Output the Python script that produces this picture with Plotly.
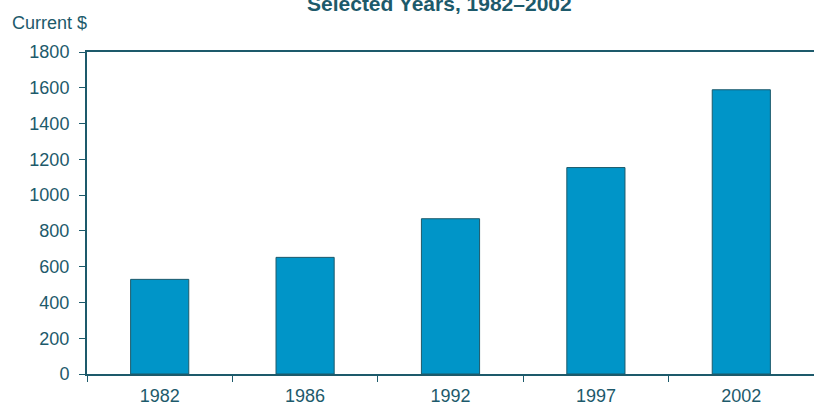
import plotly.graph_objects as go

years = ["1982", "1986", "1992", "1997", "2002"]
values = [529, 652, 868, 1154, 1589]
y_ticks = [0, 200, 400, 600, 800, 1000, 1200, 1400, 1600, 1800]

TEXT = "#1d5a6b"
FONT = "Liberation Sans, Arial, sans-serif"

L, R, T, B = 87, 0, 52, 29
PW, PH = 814 - L - R, 403 - T - B

fig = go.Figure(go.Bar(
    x=years, y=values, width=0.4,
    marker=dict(color="#0095c8", line=dict(color=TEXT, width=1)),
))

fig.update_layout(
    width=814, height=403,
    margin=dict(l=L, r=R, t=T, b=B),
    plot_bgcolor="white", paper_bgcolor="white",
    font=dict(family=FONT, size=18, color=TEXT),
    showlegend=False,
    xaxis=dict(
        type="category", showline=True, linecolor=TEXT, linewidth=2,
        mirror=True, ticks="outside", tickson="boundaries", ticklen=6,
        tickcolor=TEXT, tickwidth=1, showgrid=False, ticklabelstandoff=4,
        automargin=False, tickfont=dict(size=18, color=TEXT),
    ),
    yaxis=dict(
        range=[0, 1800], tickvals=y_ticks, showline=True, linecolor=TEXT,
        linewidth=2, ticks="outside", ticklen=6, tickcolor=TEXT, ticklabelstandoff=6,
        automargin=False, showgrid=False, zeroline=False,
        tickfont=dict(size=18, color=TEXT),
    ),
    annotations=[
        dict(text="<b>Selected Years, 1982–2002</b>", x=(439 - L) / PW, y=1 + (T - 3) / PH,
             xref="paper", yref="paper", xanchor="center", yanchor="middle",
             showarrow=False, font=dict(family=FONT, size=21, color=TEXT)),
        dict(text="Current $", x=(10 - L) / PW, y=1 + (T - 23) / PH,
             xref="paper", yref="paper", xanchor="left", yanchor="middle",
             showarrow=False, font=dict(family=FONT, size=18, color=TEXT)),
    ],
)

fig.write_html("out.html", config={"displayModeBar": False},
               post_script="document.body.style.margin='0';document.body.style.overflow='hidden';")
